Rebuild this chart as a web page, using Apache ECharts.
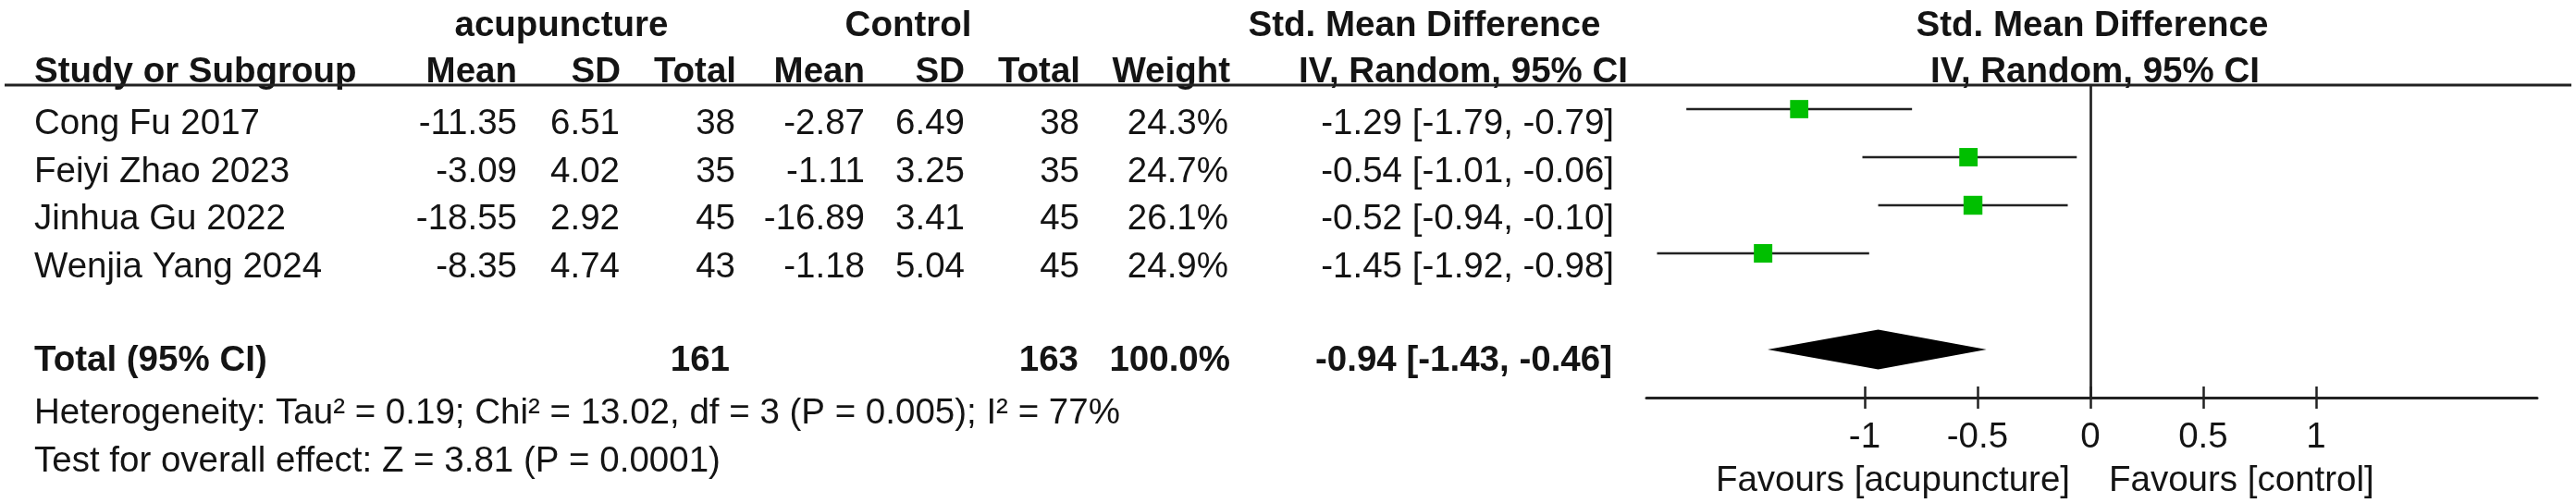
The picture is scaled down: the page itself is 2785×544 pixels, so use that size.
<!DOCTYPE html>
<html>
<head>
<meta charset="utf-8">
<script src="https://cdn.jsdelivr.net/npm/echarts@6/dist/echarts.min.js"></script>
<style>
  html, body { margin: 0; padding: 0; background: #ffffff; }
  #chart { width: 2785px; height: 544px; }
</style>
</head>
<body>
<div id="chart"></div>
<script>
// ---------------- DATA ----------------
const studies   = ['Cong Fu 2017', 'Feiyi Zhao 2023', 'Jinhua Gu 2022', 'Wenjia Yang 2024'];
const expMean   = [-11.35, -3.09, -18.55, -8.35];
const expSD     = [6.51, 4.02, 2.92, 4.74];
const expTotal  = [38, 35, 45, 43];
const ctlMean   = [-2.87, -1.11, -16.89, -1.18];
const ctlSD     = [6.49, 3.25, 3.41, 5.04];
const ctlTotal  = [38, 35, 45, 45];
const weights   = [24.3, 24.7, 26.1, 24.9];
const smd       = [-1.29, -0.54, -0.52, -1.45];
const ciLow     = [-1.79, -1.01, -0.94, -1.92];
const ciHigh    = [-0.79, -0.06, -0.10, -0.98];

const totalLabel   = 'Total (95% CI)';
const totalExpN    = 161;
const totalCtlN    = 163;
const totalWeight  = 100.0;
const totalSmd     = -0.94;
const totalLow     = -1.43;
const totalHigh    = -0.46;

const heterogeneityText = 'Heterogeneity: Tau\u00b2 = 0.19; Chi\u00b2 = 13.02, df = 3 (P = 0.005); I\u00b2 = 77%';
const overallText       = 'Test for overall effect: Z = 3.81 (P = 0.0001)';

const groupHeaders = ['acupuncture', 'Control', 'Std. Mean Difference', 'Std. Mean Difference'];
const colHeaders   = ['Study or Subgroup', 'Mean', 'SD', 'Total', 'Mean', 'SD', 'Total', 'Weight', 'IV, Random, 95% CI', 'IV, Random, 95% CI'];
const tickValues   = [-1, -0.5, 0, 0.5, 1];
const favourLeft   = 'Favours [acupuncture]';
const favourRight  = 'Favours [control]';

// ---------------- LAYOUT ----------------
const FONT = '"Liberation Sans", Arial, Helvetica, sans-serif';
const FS = 38.5;
const TXT = '#141414';
const LINE = '#222222';

const fmt2 = v => v.toFixed(2);
const ciStr = (e, l, h) => fmt2(e) + ' [' + fmt2(l) + ', ' + fmt2(h) + ']';

function txt(text, x, y, align, bold) {
  return {
    type: 'text', x: x, y: y, silent: true,
    style: {
      text: text, fill: TXT,
      font: (bold ? 'bold ' : '') + FS + 'px ' + FONT,
      align: align, verticalAlign: 'middle'
    }
  };
}

const graphics = [];
// header row 1
const h1y = 28;
graphics.push(txt(groupHeaders[0], 607, h1y, 'center', true));
graphics.push(txt(groupHeaders[1], 982, h1y, 'center', true));
graphics.push(txt(groupHeaders[2], 1540, h1y, 'center', true));
graphics.push(txt(groupHeaders[3], 2262, h1y, 'center', true));
// header row 2
const h2y = 78;
const colRight = [559, 671, 796, 935, 1043, 1168, 1330, 1760];
graphics.push(txt(colHeaders[0], 37, h2y, 'left', true));
for (let c = 0; c < colRight.length; c++) {
  graphics.push(txt(colHeaders[c + 1], colRight[c], h2y, 'right', true));
}
graphics.push(txt(colHeaders[9], 2265, h2y, 'center', true));
// underline
graphics.push({
  type: 'line', silent: true,
  shape: { x1: 5, y1: 92, x2: 2780, y2: 92 },
  style: { stroke: LINE, lineWidth: 3 }
});
// study rows
const dataRight = [559, 670, 795, 935, 1043, 1167, 1328, 1745];
for (let i = 0; i < studies.length; i++) {
  const y = 134.5 + 51.5 * i;
  const cells = [fmt2(expMean[i]), fmt2(expSD[i]), String(expTotal[i]),
                 fmt2(ctlMean[i]), fmt2(ctlSD[i]), String(ctlTotal[i]),
                 weights[i].toFixed(1) + '%', ciStr(smd[i], ciLow[i], ciHigh[i])];
  graphics.push(txt(studies[i], 37, y, 'left', false));
  cells.forEach((s, c) => graphics.push(txt(s, dataRight[c], y, 'right', false)));
}
// total row
const ty = 390;
graphics.push(txt(totalLabel, 37, ty, 'left', true));
graphics.push(txt(String(totalExpN), 789, ty, 'right', true));
graphics.push(txt(String(totalCtlN), 1166, ty, 'right', true));
graphics.push(txt(totalWeight.toFixed(1) + '%', 1330, ty, 'right', true));
graphics.push(txt(ciStr(totalSmd, totalLow, totalHigh), 1743, ty, 'right', true));
// footnotes
graphics.push(txt(heterogeneityText, 37, 447, 'left', false));
graphics.push(txt(overallText, 37, 499, 'left', false));
// favours labels
graphics.push(txt(favourLeft, 2238, 520, 'right', false));
graphics.push(txt(favourRight, 2280, 520, 'left', false));

// ---------------- SERIES DATA ----------------
const ciData = studies.map((s, i) => [ciLow[i], ciHigh[i], i]);
const pointData = studies.map((s, i) => [smd[i], i, weights[i]]);
const diamondRow = studies.length + 1;
const diamondData = [[totalLow, totalSmd, totalHigh, diamondRow]];

const chart = echarts.init(document.getElementById('chart'), null, { renderer: 'canvas' });
chart.setOption({
  animation: false,
  backgroundColor: '#ffffff',
  grid: { left: 1780, width: 963, top: 92, height: 338 },
  xAxis: [{
    type: 'value', min: -1.967, max: 1.98, position: 'bottom',
    splitLine: { show: false },
    axisLine: { show: true, onZero: false, lineStyle: { color: LINE, width: 3 } },
    axisTick: { show: true, inside: false, length: 12, customValues: tickValues, lineStyle: { color: LINE, width: 2.5 } },
    axisLabel: { show: true, customValues: tickValues, margin: 24, color: TXT, fontSize: FS, fontFamily: FONT,
                 formatter: v => String(v) }
  }, {
    type: 'value', min: -1.967, max: 1.98, position: 'bottom',
    splitLine: { show: false },
    axisLine: { show: false, onZero: false },
    axisTick: { show: true, inside: true, length: 12, customValues: tickValues, lineStyle: { color: LINE, width: 2.5 } },
    axisLabel: { show: false }
  }],
  yAxis: { type: 'value', min: -0.5, max: 6, inverse: true, show: false },
  graphic: graphics,
  series: [{
    type: 'custom',
    z: 3,
    data: ciData,
    encode: { x: [0, 1], y: 2 },
    renderItem: function (params, api) {
      const p1 = api.coord([api.value(0), api.value(2)]);
      const p2 = api.coord([api.value(1), api.value(2)]);
      return { type: 'line', shape: { x1: p1[0], y1: p1[1], x2: p2[0], y2: p2[1] },
               style: { stroke: LINE, lineWidth: 2.7 } };
    },
    markLine: {
      silent: true, symbol: 'none', label: { show: false },
      lineStyle: { color: LINE, width: 2.7, type: 'solid' },
      data: [{ xAxis: 0 }]
    }
  }, {
    type: 'scatter',
    z: 4,
    data: pointData,
    symbol: 'rect',
    symbolSize: v => 4 * Math.sqrt(v[2]),
    itemStyle: { color: '#00bf00', opacity: 1 }
  }, {
    type: 'custom',
    z: 4,
    data: diamondData,
    encode: { x: [0, 1, 2], y: 3 },
    renderItem: function (params, api) {
      const l = api.coord([api.value(0), api.value(3)]);
      const c = api.coord([api.value(1), api.value(3)]);
      const r = api.coord([api.value(2), api.value(3)]);
      const hh = 21.5;
      return { type: 'polygon',
               shape: { points: [[l[0], l[1]], [c[0], c[1] - hh], [r[0], r[1]], [c[0], c[1] + hh]] },
               style: { fill: '#000000' } };
    }
  }]
});
</script>
</body>
</html>
